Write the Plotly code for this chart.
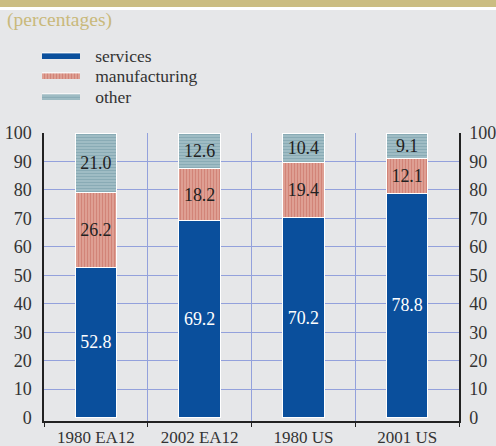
import plotly.graph_objects as go

categories = ["1980 EA12", "2002 EA12", "1980 US", "2001 US"]
services = [52.8, 69.2, 70.2, 78.8]
manufacturing = [26.2, 18.2, 19.4, 12.1]
other = [21.0, 12.6, 10.4, 9.1]
y_ticks = [0, 10, 20, 30, 40, 50, 60, 70, 80, 90, 100]
grid_ticks = [10, 20, 30, 40, 50, 60, 70, 80, 90, 100]

FONT = "Liberation Serif, Times New Roman, Times, serif"
BG = "#e6e7e9"
GRID = "#93a1dc"
TICK_SIZE = 18

MANU_PAT = dict(shape="|", fgcolor="#c25e52", bgcolor="#e2aa9f", size=3, solidity=0.55)
OTHER_PAT = dict(shape="-", fgcolor="#6a94a0", bgcolor="#a9c3ca", size=3, solidity=0.55)

fig = go.Figure()

def fmt(v):
    return [f"{x:.1f}" for x in v]

fig.add_trace(go.Bar(
    x=categories, y=services, name="services", width=0.4,
    marker=dict(color="#0a4f9c", line=dict(color="white", width=1)),
    text=fmt(services), textposition="inside", insidetextanchor="middle", textangle=0,
    textfont=dict(family=FONT, size=18, color="white"),
    showlegend=False, hoverinfo="skip"))
fig.add_trace(go.Bar(
    x=categories, y=manufacturing, name="manufacturing", width=0.4,
    marker=dict(color="#e2aa9f", line=dict(color="white", width=1), pattern=MANU_PAT),
    text=fmt(manufacturing), textposition="inside", insidetextanchor="middle", textangle=0,
    textfont=dict(family=FONT, size=18, color="#222222"),
    showlegend=False, hoverinfo="skip"))
fig.add_trace(go.Bar(
    x=categories, y=other, name="other", width=0.4,
    marker=dict(color="#a9c3ca", line=dict(color="white", width=1), pattern=OTHER_PAT),
    text=fmt(other), textposition="inside", insidetextanchor="middle", textangle=0,
    textfont=dict(family=FONT, size=18, color="#222222"),
    showlegend=False, hoverinfo="skip"))

# legend entries (filled swatches), one legend box per row
legend_specs = [
    ("services", "#0a4f9c", None, "legend"),
    ("manufacturing", "#e2aa9f", MANU_PAT, "legend2"),
    ("other", "#a9c3ca", OTHER_PAT, "legend3"),
]
NB = "\u00a0\u00a0\u200a"
for name, col, pat, lg in legend_specs:
    kw = dict(x=[None], y=[None], name=NB + name, mode="lines", fill="toself",
              fillcolor=col, line=dict(color="white", width=1),
              showlegend=True, hoverinfo="skip", legend=lg)
    if pat:
        kw["fillpattern"] = pat
    fig.add_trace(go.Scatter(**kw))

fig.add_trace(go.Scatter(x=[None], y=[None], yaxis="y3", showlegend=False, hoverinfo="skip"))
fig.add_trace(go.Scatter(x=[None], y=[None], yaxis="y2", showlegend=False, hoverinfo="skip"))

def legend_box(top_px):
    return dict(x=-7/415, y=1 + (133 - top_px)/288,
                xanchor="left", yanchor="top", bgcolor="rgba(0,0,0,0)",
                font=dict(family=FONT, size=17.5, color="#333333"),
                itemwidth=38)

yr = [-1.2, 100]
fig.update_layout(
    width=496, height=446,
    margin=dict(l=44, r=37, t=133, b=25, autoexpand=False),
    paper_bgcolor=BG, plot_bgcolor=BG,
    barmode="stack",
    uniformtext=dict(minsize=16, mode="show"),
    font=dict(family=FONT, size=TICK_SIZE, color="#333333"),
    xaxis=dict(type="category", tickson="boundaries", ticks="outside", ticklen=4,
               tickangle=0, automargin=False,
               tickcolor="#222222", showline=True, linecolor="#222222", linewidth=1.5,
               showgrid=True, gridcolor=GRID, gridwidth=1.3,
               tickfont=dict(family=FONT, size=17, color="#333333")),
    yaxis=dict(range=yr, tickvals=y_ticks, showgrid=False, zeroline=False, automargin=False,
               showline=True, linecolor="#222222", linewidth=1.5, ticks="",
               ticklabelstandoff=7,
               tickfont=dict(family=FONT, size=TICK_SIZE, color="#333333")),
    yaxis2=dict(range=yr, tickvals=y_ticks, overlaying="y", side="right", automargin=False,
                showgrid=False, zeroline=False, showline=True, linecolor="#222222",
                linewidth=1.5, ticks="", ticklabelstandoff=5,
                tickfont=dict(family=FONT, size=TICK_SIZE, color="#333333")),
    yaxis3=dict(range=yr, tickvals=grid_ticks, overlaying="y", showgrid=True, automargin=False,
                gridcolor=GRID, gridwidth=1.3, showticklabels=False, zeroline=False,
                showline=False, ticks=""),
    legend=legend_box(37),
    legend2=legend_box(57),
    legend3=legend_box(78),
    shapes=[
        dict(type="rect", xref="paper", yref="paper", x0=-0.2, x1=1.2,
             y0=1 + 126/288, y1=1 + 134/288, fillcolor="#cbbd82", line=dict(width=0), layer="below"),
        dict(type="rect", xref="paper", yref="paper", x0=-0.2, x1=1.2,
             y0=1 + 123/288, y1=1 + 126/288, fillcolor="white", line=dict(width=0), layer="below"),
    ],
    annotations=[dict(text="(percentages)", xref="paper", yref="paper",
                      x=-39/415, y=1 + 113/288, xanchor="left", yanchor="middle",
                      showarrow=False, font=dict(family=FONT, size=19.5, color="#c9b97b"))],
)

fig.write_html("out.html", config={"displayModeBar": False},
               post_script="document.body.style.margin='0';document.body.style.background='#e6e7e9';")
